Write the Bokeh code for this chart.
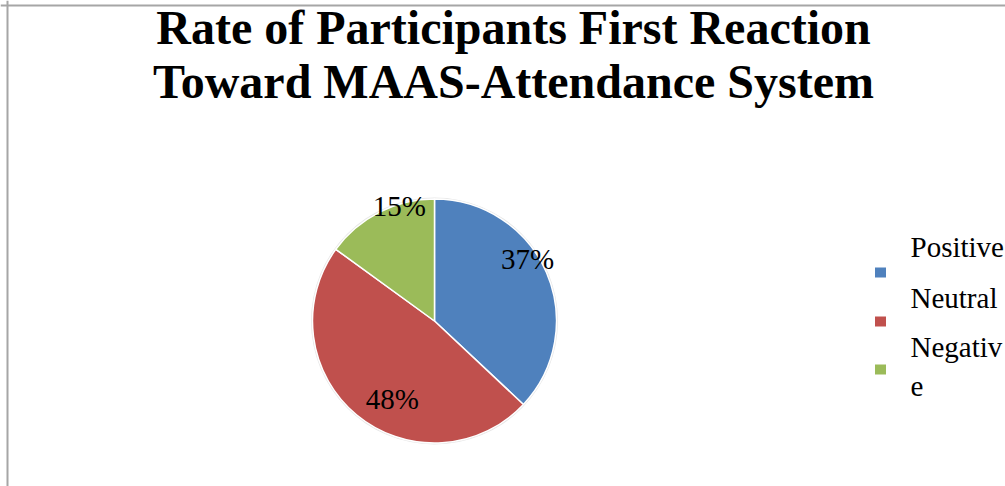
import math
from bokeh.plotting import figure
from bokeh.models import Range1d, Span, Label, ColumnDataSource
from bokeh.core.properties import value
from bokeh.embed import file_html
from bokeh.resources import INLINE

# ---- data ----
categories = ["Positive", "Neutral", "Negative"]
shares = [37, 48, 15]
colors = ["#4F81BD", "#C0504D", "#9BBB59"]
legend_labels = ["Positive", "Neutral", "Negativ\ne"]
title_lines = ["Rate of Participants First Reaction", "Toward MAAS-Attendance System"]

# ---- layout ----
W, H = 1005, 486
FONT = "Liberation Serif"
cx, cy, R = 434, 165.5, 122          # pie centre / radius (canvas units)
label_r = [0.91, 0.74, 0.97]         # label distance as fraction of radius
label_nudge = [9.6, 11.8, -9.7]      # label angle nudge (deg)

p = figure(width=W, height=H, output_backend="svg", toolbar_location=None,
           x_range=Range1d(0, W), y_range=Range1d(0, H), min_border=0,
           outline_line_color=None, background_fill_color="white",
           border_fill_color="white")
p.axis.visible = False
p.grid.visible = False

# border (top and left edges visible in reference)
p.add_layout(Span(location=H - 5, dimension="width", line_color="#A6A6A6", line_width=2))
p.add_layout(Span(location=7, dimension="height", line_color="#A6A6A6", line_width=2))

# pie
total = sum(shares)
starts, ends, mids = [], [], []
a = 90.0
for s in shares:
    sweep = 360.0 * s / total
    starts.append(math.radians(a))
    ends.append(math.radians(a - sweep))
    mids.append(a - sweep / 2)
    a -= sweep

src = ColumnDataSource(dict(cat=categories, val=shares, color=colors,
                            start=starts, end=ends))
p.wedge(x=cx, y=cy, radius=R + 1.5, start_angle=0, end_angle=2 * math.pi,
        fill_color="#E6E6E6", line_color=None)
p.wedge(x=cx, y=cy, radius=R, start_angle="start", end_angle="end",
        direction="clock", fill_color="color", line_color="white",
        line_width=1.5, source=src)

# percentage labels
lx, ly, lt = [], [], []
for i, s in enumerate(shares):
    ang = math.radians(mids[i] + label_nudge[i])
    lx.append(cx + R * label_r[i] * math.cos(ang))
    ly.append(cy + R * label_r[i] * math.sin(ang) + 2)
    lt.append(f"{round(100 * s / total)}%")
p.text(x=lx, y=ly, text=lt, text_font=value(FONT), text_font_size="29px",
       text_align="center", text_baseline="middle", text_color="black")

# title
for i, t in enumerate(title_lines):
    p.add_layout(Label(x=513, y=459 - 54 * i, text=t, text_font=FONT,
                       text_font_size="48px", text_font_style="bold",
                       text_align="center", text_baseline="alphabetic",
                       text_color="black"))

# legend (custom)
leg_sq_y = [214, 165, 117]
leg_tx_y = [240, 189, 120]
p.rect(x=[880] * 3, y=leg_sq_y, width=11, height=10, fill_color=colors,
       line_color=None)
p.text(x=[910] * 3, y=leg_tx_y, text=legend_labels, text_font=value(FONT),
       text_font_size="29px", text_align="left", text_baseline="alphabetic",
       text_color="black")

open("out.html", "w").write(file_html(p, INLINE))
